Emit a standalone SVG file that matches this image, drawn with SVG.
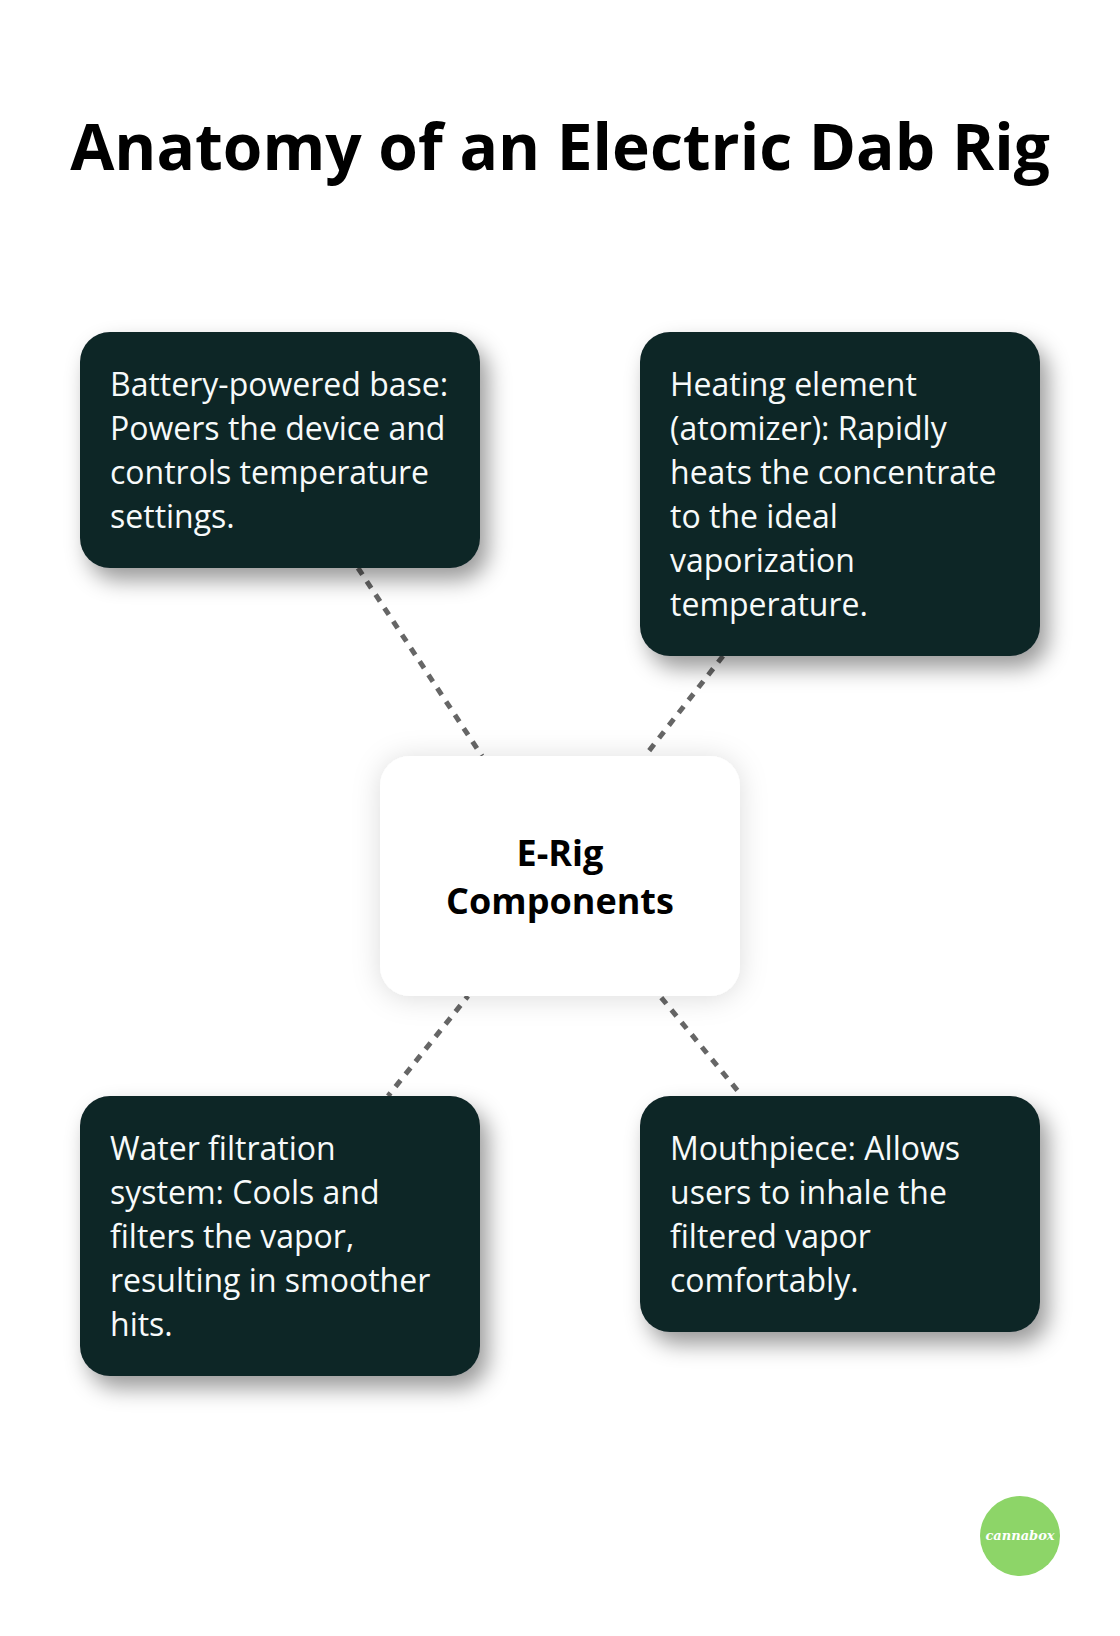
<svg xmlns="http://www.w3.org/2000/svg" width="1120" height="1636" viewBox="0 0 1120 1636">
<style>
.f{font-family:"Open Sans","Noto Sans",sans-serif}
.t{font-size:32px;fill:#f7fafa}
.d{fill:#112628}
.c{fill:none;stroke:#666;stroke-width:5;stroke-dasharray:8 8}
</style>
<defs>
<filter id="s" x="-20%" y="-20%" width="150%" height="150%"><feDropShadow dx="8" dy="12" stdDeviation="11" flood-color="#000" flood-opacity="0.4"/></filter>
<filter id="w" x="-20%" y="-20%" width="140%" height="140%"><feDropShadow dx="0" dy="2" stdDeviation="14" flood-color="#000" flood-opacity="0.14"/></filter>
</defs>
<rect width="1120" height="1636" fill="#fff"/>
<text class="f" x="560" y="170" text-anchor="middle" font-size="64" font-weight="700" fill="#000">Anatomy of an Electric Dab Rig</text>
<g id="connectors">
<line class="c" x1="358" y1="568" x2="482" y2="756"/>
<line class="c" x1="723" y1="656" x2="645" y2="756"/>
<line class="c" x1="468" y1="996" x2="388" y2="1096" stroke-dashoffset="4"/>
<line class="c" x1="660" y1="996" x2="742" y2="1096" stroke-dashoffset="-2"/>
</g>
<g id="center"><rect x="380" y="756" width="360" height="240" rx="30" fill="#fff" filter="url(#w)"/>
<text class="f" text-anchor="middle" font-size="36" font-weight="700" fill="#000"><tspan x="560" y="866">E-Rig</tspan><tspan x="560" y="914">Components</tspan></text></g>
<g id="battery"><rect class="d" x="80" y="332" width="400" height="236" rx="30" filter="url(#s)"/>
<text class="f t"><tspan x="110" y="396">Battery-powered base:</tspan><tspan x="110" y="440">Powers the device and</tspan><tspan x="110" y="484">controls temperature</tspan><tspan x="110" y="528">settings.</tspan></text></g>
<g id="heating"><rect class="d" x="640" y="332" width="400" height="324" rx="30" filter="url(#s)"/>
<text class="f t"><tspan x="670" y="396">Heating element</tspan><tspan x="670" y="440">(atomizer): Rapidly</tspan><tspan x="670" y="484">heats the concentrate</tspan><tspan x="670" y="528">to the ideal</tspan><tspan x="670" y="572">vaporization</tspan><tspan x="670" y="616">temperature.</tspan></text></g>
<g id="water"><rect class="d" x="80" y="1096" width="400" height="280" rx="30" filter="url(#s)"/>
<text class="f t"><tspan x="110" y="1160">Water filtration</tspan><tspan x="110" y="1204">system: Cools and</tspan><tspan x="110" y="1248">filters the vapor,</tspan><tspan x="110" y="1292">resulting in smoother</tspan><tspan x="110" y="1336">hits.</tspan></text></g>
<g id="mouthpiece"><rect class="d" x="640" y="1096" width="400" height="236" rx="30" filter="url(#s)"/>
<text class="f t"><tspan x="670" y="1160">Mouthpiece: Allows</tspan><tspan x="670" y="1204">users to inhale the</tspan><tspan x="670" y="1248">filtered vapor</tspan><tspan x="670" y="1292">comfortably.</tspan></text></g>
<g id="logo"><circle cx="1020" cy="1536" r="40" fill="#8dd568"/>
<text x="1020" y="1540" text-anchor="middle" font-family="'DejaVu Serif',serif" font-style="italic" font-weight="700" font-size="13" fill="#fff">cannabox</text></g>
</svg>
